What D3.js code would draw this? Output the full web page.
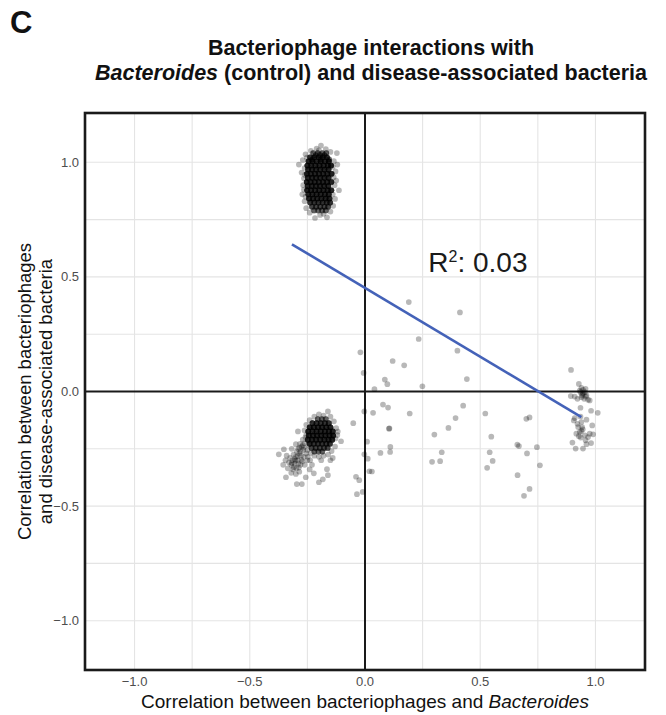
<!DOCTYPE html>
<html>
<head>
<meta charset="utf-8">
<script src="https://cdn.jsdelivr.net/npm/d3@7"></script>
<style>
  html, body { margin: 0; padding: 0; background: #fff; }
  svg { display: block; font-family: "Liberation Sans", Arial, Helvetica, sans-serif; }
</style>
</head>
<body>
<svg id="chart" width="666" height="715"></svg>
<script>
// ---------------- DATA ----------------
const panelLabel = "C";
const titleLine1 = "Bacteriophage interactions with";
const titleLine2Italic = "Bacteroides";
const titleLine2Rest = " (control) and disease-associated bacteria";
const xTitlePlain = "Correlation between bacteriophages and ";
const xTitleItalic = "Bacteroides";
const yTitleLines = ["Correlation between bacteriophages", "and disease-associated bacteria"];

const axisDomain = [-1.215, 1.215];
const tickValues = [-1.0, -0.5, 0.0, 0.5, 1.0];
const tickLabels = ["\u22121.0", "\u22120.5", "0.0", "0.5", "1.0"];
const gridValues = [-1.0, -0.75, -0.5, -0.25, 0.0, 0.25, 0.5, 0.75, 1.0];

// linear fit shown in the figure
const fitIntercept = 0.452;
const fitSlope = -0.600;
const fitXRange = [-0.317, 0.939];
const r2Label = { x: 0.49, y: 0.523, base: "R", sup: "2", rest: ": 0.03" };

// dense cluster (upper-left): rows [y, overplot count, [x values]]
const topCoreRows = [
  [1.040, 3, [-0.225, -0.205, -0.185, -0.168]],
  [1.031, 3, [-0.214, -0.195, -0.176]],
  [1.022, 5, [-0.238, -0.220, -0.201, -0.183, -0.165]],
  [1.013, 3, [-0.229, -0.192, -0.156]],
  [1.004, 6, [-0.245, -0.228, -0.210, -0.192, -0.174, -0.157]],
  [0.986, 6, [-0.250, -0.233, -0.215, -0.197, -0.179, -0.161, -0.147]],
  [0.968, 6, [-0.247, -0.230, -0.212, -0.194, -0.176, -0.158]],
  [0.950, 6, [-0.252, -0.235, -0.217, -0.199, -0.181, -0.163, -0.145]],
  [0.932, 6, [-0.248, -0.230, -0.212, -0.194, -0.176, -0.158]],
  [0.914, 6, [-0.253, -0.236, -0.218, -0.200, -0.182, -0.164, -0.146]],
  [0.896, 6, [-0.249, -0.231, -0.213, -0.195, -0.177, -0.159]],
  [0.878, 6, [-0.251, -0.234, -0.216, -0.198, -0.180, -0.162, -0.146]],
  [0.860, 6, [-0.246, -0.228, -0.210, -0.192, -0.174, -0.157]],
  [0.842, 6, [-0.243, -0.225, -0.207, -0.189, -0.171, -0.154]],
  [0.824, 5, [-0.238, -0.220, -0.202, -0.184, -0.166, -0.151]],
  [0.806, 4, [-0.230, -0.212, -0.194, -0.176, -0.160]],
  [0.790, 3, [-0.221, -0.203, -0.186, -0.170]]
];
const topFringe = [
  [-0.287, 0.990], [-0.275, 0.955], [-0.270, 1.010], [-0.268, 0.900], [-0.272, 0.860],
  [-0.262, 0.830], [-0.255, 0.800], [-0.265, 0.930], [-0.258, 1.035], [-0.122, 1.040],
  [-0.113, 0.878], [-0.128, 0.960], [-0.125, 0.920], [-0.130, 0.840], [-0.135, 1.005],
  [-0.120, 0.990], [-0.138, 0.810], [-0.191, 1.073], [-0.210, 1.060], [-0.170, 1.058],
  [-0.235, 1.050], [-0.150, 1.045], [-0.217, 0.757], [-0.165, 0.760], [-0.195, 0.770],
  [-0.240, 0.780], [-0.150, 0.785], [-0.180, 0.775], [-0.262, 0.975], [-0.132, 0.900],
  [-0.265, 0.880], [-0.260, 0.945], [-0.136, 0.935], [-0.140, 0.980], [-0.258, 0.850],
  [-0.140, 0.860], [-0.200, 1.052], [-0.252, 1.020]
];

// dense cluster (lower-left): rows [y, overplot count, [x values]]
const bottomCoreRows = [
  [-0.120, 3, [-0.205, -0.187, -0.170]],
  [-0.138, 5, [-0.228, -0.210, -0.192, -0.174, -0.157]],
  [-0.156, 6, [-0.240, -0.222, -0.204, -0.186, -0.168, -0.150]],
  [-0.174, 6, [-0.246, -0.228, -0.210, -0.192, -0.174, -0.156, -0.140]],
  [-0.192, 6, [-0.244, -0.226, -0.208, -0.190, -0.172, -0.154, -0.138]],
  [-0.210, 6, [-0.248, -0.230, -0.212, -0.194, -0.176, -0.158, -0.142]],
  [-0.228, 5, [-0.240, -0.222, -0.204, -0.186, -0.168, -0.152]],
  [-0.246, 4, [-0.232, -0.214, -0.196, -0.178, -0.162]],
  [-0.262, 3, [-0.220, -0.202, -0.185]]
];
const bottomHalo = [
  [-0.161, -0.087], [-0.104, -0.217], [-0.120, -0.190], [-0.125, -0.160], [-0.130, -0.240],
  [-0.145, -0.260], [-0.160, -0.275], [-0.180, -0.280], [-0.200, -0.285], [-0.220, -0.280],
  [-0.180, -0.105], [-0.200, -0.100], [-0.220, -0.110], [-0.240, -0.125], [-0.255, -0.145],
  [-0.262, -0.170], [-0.150, -0.110], [-0.135, -0.130], [-0.128, -0.205], [-0.118, -0.175],
  [-0.255, -0.190], [-0.235, -0.268], [-0.150, -0.300], [-0.140, -0.290], [-0.190, -0.300]
];
const bottomTail = [
  [-0.258, -0.200], [-0.262, -0.225], [-0.270, -0.210], [-0.275, -0.240], [-0.268, -0.255],
  [-0.282, -0.228], [-0.290, -0.250], [-0.285, -0.270], [-0.296, -0.262], [-0.300, -0.285],
  [-0.292, -0.300], [-0.310, -0.275], [-0.315, -0.300], [-0.305, -0.315], [-0.320, -0.320],
  [-0.330, -0.310], [-0.325, -0.290], [-0.335, -0.335], [-0.312, -0.340], [-0.298, -0.335],
  [-0.280, -0.320], [-0.276, -0.298], [-0.265, -0.285], [-0.255, -0.270], [-0.250, -0.300],
  [-0.262, -0.320], [-0.285, -0.350], [-0.300, -0.360], [-0.320, -0.355], [-0.343, -0.374],
  [-0.296, -0.404], [-0.274, -0.404], [-0.257, -0.374], [-0.240, -0.340], [-0.230, -0.320],
  [-0.222, -0.357], [-0.200, -0.396], [-0.183, -0.383], [-0.161, -0.365], [-0.165, -0.339],
  [-0.374, -0.274], [-0.352, -0.252], [-0.291, -0.174], [-0.345, -0.300], [-0.355, -0.320],
  [-0.340, -0.280], [-0.318, -0.250], [-0.300, -0.230], [-0.248, -0.285], [-0.238, -0.300],
  [-0.280, -0.262], [-0.305, -0.295], [-0.290, -0.315], [-0.270, -0.235], [-0.310, -0.330],
  [-0.265, -0.245], [-0.278, -0.280], [-0.292, -0.282], [-0.302, -0.302], [-0.318, -0.312],
  [-0.272, -0.305], [-0.287, -0.332], [-0.250, -0.255], [-0.245, -0.232], [-0.285, -0.245]
];

// scattered points in the middle
const scatterPoints = [
  [0.190, 0.390], [0.412, 0.345], [0.233, 0.229], [0.401, 0.178], [0.120, 0.133],
  [0.170, 0.114], [0.086, 0.052], [0.097, 0.032], [0.041, 0.010], [0.249, 0.023],
  [0.442, 0.054], [0.078, -0.057], [0.100, -0.070], [0.035, -0.093], [0.194, -0.096],
  [0.426, -0.062], [0.393, -0.116], [0.522, -0.096], [0.700, -0.119], [0.714, -0.113],
  [0.362, -0.159], [0.104, -0.162], [0.106, -0.161], [0.301, -0.188], [0.548, -0.197],
  [0.009, -0.219], [0.110, -0.242], [0.109, -0.264], [0.067, -0.268], [0.333, -0.265],
  [0.541, -0.265], [0.661, -0.232], [0.668, -0.238], [0.746, -0.243], [0.703, -0.270],
  [0.012, -0.293], [0.291, -0.307], [0.326, -0.304], [0.554, -0.303], [0.759, -0.322],
  [0.530, -0.333], [0.019, -0.348], [0.030, -0.349], [0.662, -0.365], [0.714, -0.425],
  [0.690, -0.455], [-0.025, -0.387], [-0.010, -0.438], [-0.035, -0.448], [-0.039, -0.372],
  [-0.020, 0.171], [-0.006, 0.081], [-0.003, -0.087], [-0.051, -0.138], [-0.003, -0.274]
];

// cluster near x ~ 0.93
const rightCluster = [
  [0.894, 0.094], [0.928, 0.033], [0.939, 0.016], [0.946, 0.007], [0.932, 0.004],
  [0.954, -0.003], [0.943, -0.010], [0.961, -0.017], [0.939, -0.025], [0.951, -0.032],
  [0.968, -0.036], [0.922, -0.032], [0.910, -0.022], [0.893, -0.020], [0.975, -0.039],
  [0.942, -0.017], [0.935, -0.003], [0.957, 0.012], [0.948, -0.008], [0.958, -0.022],
  [0.935, -0.071], [0.981, -0.084], [1.010, -0.093],
  [0.910, -0.116], [0.939, -0.133], [0.961, -0.123], [0.925, -0.155], [0.939, -0.172],
  [0.917, -0.184], [0.954, -0.191], [0.975, -0.184], [0.990, -0.187], [0.968, -0.199],
  [0.986, -0.148], [0.900, -0.223], [0.936, -0.201], [0.957, -0.213], [0.981, -0.225],
  [0.914, -0.249], [0.946, -0.249], [0.961, -0.230], [0.932, -0.177], [0.942, -0.155],
  [0.922, -0.141], [0.906, -0.126], [0.935, -0.109], [0.945, -0.165], [0.928, -0.195]
];

// ---------------- CHART ----------------
const svg = d3.select("#chart");
const plot = { left: 85, right: 645, top: 113, bottom: 670 };

const x = d3.scaleLinear().domain(axisDomain).range([plot.left, plot.right]);
const y = d3.scaleLinear().domain(axisDomain).range([plot.bottom, plot.top]);

// panel label
svg.append("text").attr("x", 10).attr("y", 33)
  .attr("font-size", 31).attr("font-weight", "bold").attr("fill", "#111")
  .text(panelLabel);

// title
const titleX = 371;
svg.append("text").attr("x", titleX).attr("y", 55).attr("text-anchor", "middle")
  .attr("font-size", 21.5).attr("font-weight", "bold").attr("fill", "#111")
  .text(titleLine1);
const t2 = svg.append("text").attr("x", titleX).attr("y", 80).attr("text-anchor", "middle")
  .attr("font-size", 21.5).attr("font-weight", "bold").attr("fill", "#111");
t2.append("tspan").attr("font-style", "italic").text(titleLine2Italic);
t2.append("tspan").text(titleLine2Rest);

// grid
const gGrid = svg.append("g");
gGrid.selectAll("line.gx").data(gridValues).join("line")
  .attr("x1", d => x(d)).attr("x2", d => x(d))
  .attr("y1", plot.top).attr("y2", plot.bottom)
  .attr("stroke", "#e4e4e4").attr("stroke-width", 1.1);
gGrid.selectAll("line.gy").data(gridValues).join("line")
  .attr("y1", d => y(d)).attr("y2", d => y(d))
  .attr("x1", plot.left).attr("x2", plot.right)
  .attr("stroke", "#e4e4e4").attr("stroke-width", 1.1);

// zero reference lines
svg.append("line").attr("x1", x(0)).attr("x2", x(0)).attr("y1", plot.top).attr("y2", plot.bottom)
  .attr("stroke", "#1a1a1a").attr("stroke-width", 2);
svg.append("line").attr("y1", y(0)).attr("y2", y(0)).attr("x1", plot.left).attr("x2", plot.right)
  .attr("stroke", "#1a1a1a").attr("stroke-width", 2);

// points
const expandRows = rows => rows.flatMap(([yy, n, xs]) =>
  xs.flatMap(xx => Array.from({ length: n }, () => [xx, yy])));
const allPoints = [
  ...expandRows(topCoreRows), ...topFringe,
  ...expandRows(bottomCoreRows), ...bottomHalo, ...bottomTail,
  ...scatterPoints, ...rightCluster
];
svg.append("g").selectAll("circle").data(allPoints).join("circle")
  .attr("cx", d => x(d[0])).attr("cy", d => y(d[1]))
  .attr("r", 2.85).attr("fill", "#000").attr("fill-opacity", 0.28);

// fit line
svg.append("line")
  .attr("x1", x(fitXRange[0])).attr("y1", y(fitIntercept + fitSlope * fitXRange[0]))
  .attr("x2", x(fitXRange[1])).attr("y2", y(fitIntercept + fitSlope * fitXRange[1]))
  .attr("stroke", "#4462b8").attr("stroke-width", 2.6).attr("stroke-linecap", "butt");

// R2 annotation
const r2 = svg.append("text").attr("x", x(r2Label.x)).attr("y", y(r2Label.y))
  .attr("text-anchor", "middle").attr("font-size", 28).attr("fill", "#1a1a1a");
r2.append("tspan").text(r2Label.base);
r2.append("tspan").attr("font-size", 16).attr("dy", -10).text(r2Label.sup);
r2.append("tspan").attr("dy", 10).text(r2Label.rest);

// border
svg.append("rect").attr("x", plot.left).attr("y", plot.top)
  .attr("width", plot.right - plot.left).attr("height", plot.bottom - plot.top)
  .attr("fill", "none").attr("stroke", "#1a1a1a").attr("stroke-width", 2.6);

// tick labels
svg.append("g").selectAll("text").data(tickValues).join("text")
  .attr("x", d => x(d)).attr("y", 686).attr("text-anchor", "middle")
  .attr("font-size", 13).attr("fill", "#4d4d4d")
  .text((d, i) => tickLabels[i]);
svg.append("g").selectAll("text").data(tickValues).join("text")
  .attr("x", 79).attr("y", d => y(d) + 4.6).attr("text-anchor", "end")
  .attr("font-size", 13).attr("fill", "#4d4d4d")
  .text((d, i) => tickLabels[i]);

// axis titles
const xt = svg.append("text").attr("x", (plot.left + plot.right) / 2).attr("y", 708)
  .attr("text-anchor", "middle").attr("font-size", 19).attr("fill", "#111");
xt.append("tspan").text(xTitlePlain);
xt.append("tspan").attr("font-style", "italic").text(xTitleItalic);

const yt = svg.append("text")
  .attr("transform", `translate(31,${(plot.top + plot.bottom) / 2}) rotate(-90)`)
  .attr("text-anchor", "middle").attr("font-size", 18.5).attr("fill", "#111");
yt.selectAll("tspan").data(yTitleLines).join("tspan")
  .attr("x", 0).attr("y", (d, i) => i * 21).text(d => d);
</script>
</body>
</html>
